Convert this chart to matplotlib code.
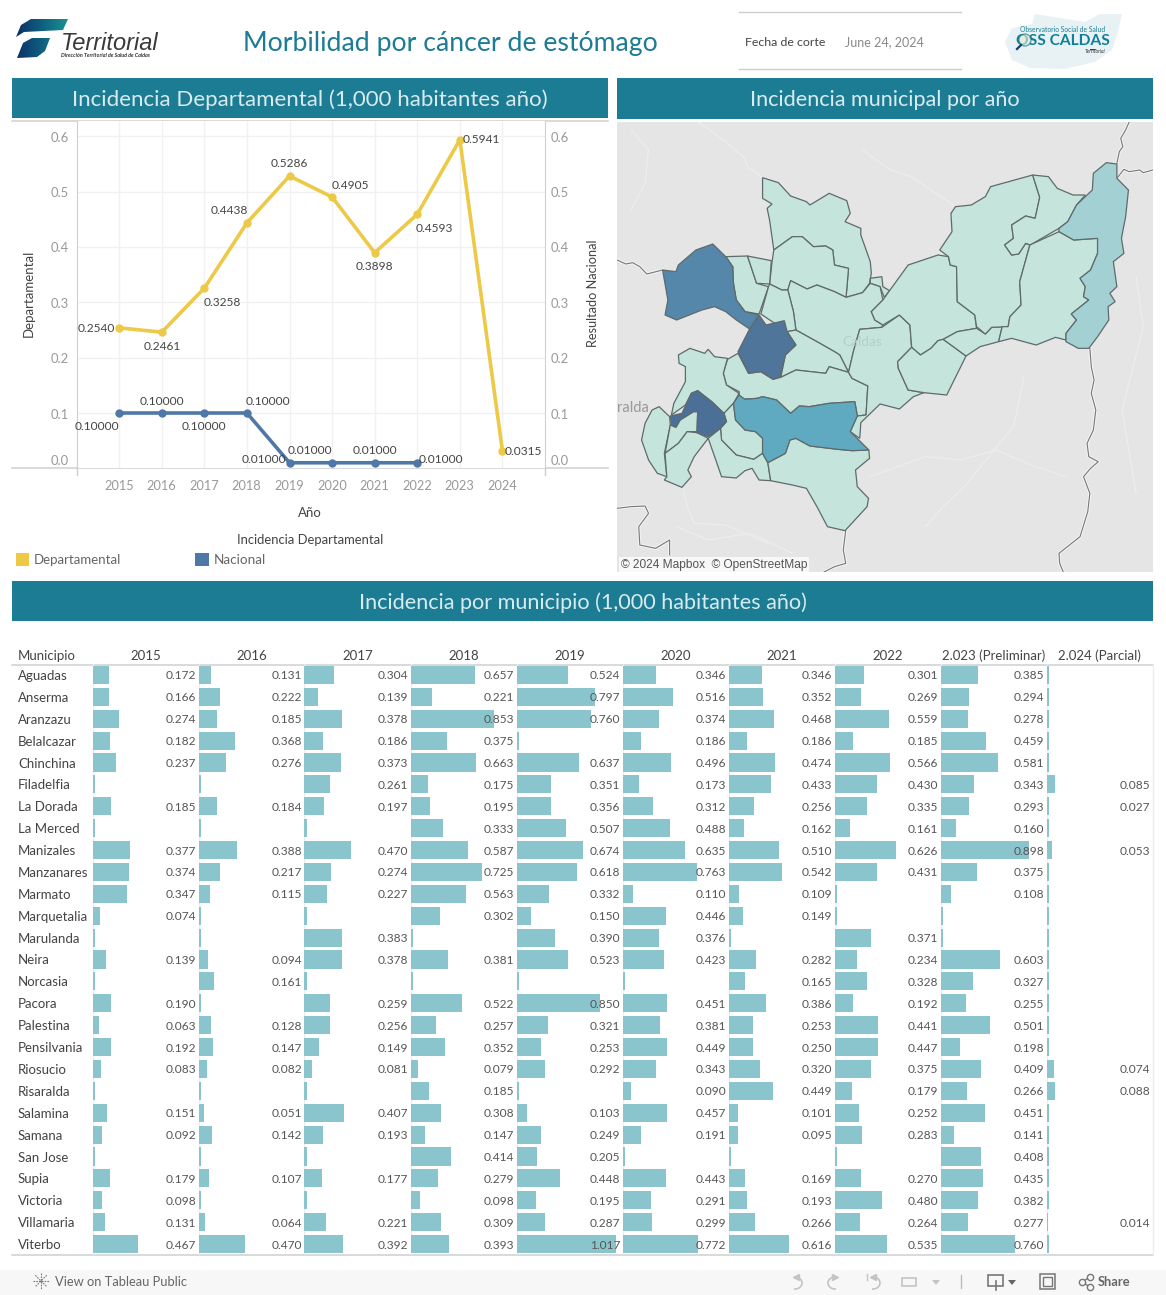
import numpy as np
import matplotlib
matplotlib.use('Agg')
import matplotlib.pyplot as plt
from matplotlib.patches import Polygon, Rectangle, Circle

plt.rcParams['font.family'] = ['Lato', 'DejaVu Sans']

W, H = 1166, 1295

# grafico de lineas
years = [2015, 2016, 2017, 2018, 2019, 2020, 2021, 2022, 2023, 2024]
departamental = [0.2540, 0.2461, 0.3258, 0.4438, 0.5286, 0.4905, 0.3898, 0.4593, 0.5941, 0.0315]
nacional = [0.1, 0.1, 0.1, 0.1, 0.01, 0.01, 0.01, 0.01]
dep_offsets = [(-23, -1), (0, -14), (18, -14), (-18, 12), (0, 12), (18, 12), (0, -14), (17, -14), (21, 0), (21, -1)]
nac_offsets = [(-22, -14), (0, 11), (0, -14), (21, 11), (-26, 3), (-22, 12), (0, 12), (24, 3)]

# tabla
municipios = ['Aguadas', 'Anserma', 'Aranzazu', 'Belalcazar', 'Chinchina', 'Filadelfia', 'La Dorada',
              'La Merced', 'Manizales', 'Manzanares', 'Marmato', 'Marquetalia', 'Marulanda', 'Neira',
              'Norcasia', 'Pacora', 'Palestina', 'Pensilvania', 'Riosucio', 'Risaralda', 'Salamina',
              'Samana', 'San Jose', 'Supia', 'Victoria', 'Villamaria', 'Viterbo']
col_names = ['2015', '2016', '2017', '2018', '2019', '2020', '2021', '2022',
             '2.023 (Preliminar)', '2.024 (Parcial)']
n = None
v2015 = [.172, .166, .274, .182, .237, n, .185, n, .377, .374, .347, .074, n, .139, n, .190, .063, .192, .083, n, .151, .092, n, .179, .098, .131, .467]
v2016 = [.131, .222, .185, .368, .276, n, .184, n, .388, .217, .115, n, n, .094, .161, n, .128, .147, .082, n, .051, .142, n, .107, n, .064, .470]
v2017 = [.304, .139, .378, .186, .373, .261, .197, n, .470, .274, .227, n, .383, .378, n, .259, .256, .149, .081, n, .407, .193, n, .177, n, .221, .392]
v2018 = [.657, .221, .853, .375, .663, .175, .195, .333, .587, .725, .563, .302, n, .381, n, .522, .257, .352, .079, .185, .308, .147, .414, .279, .098, .309, .393]
v2019 = [.524, .797, .760, n, .637, .351, .356, .507, .674, .618, .332, .150, .390, .523, n, .850, .321, .253, .292, n, .103, .249, .205, .448, .195, .287, 1.017]
v2020 = [.346, .516, .374, .186, .496, .173, .312, .488, .635, .763, .110, .446, .376, .423, n, .451, .381, .449, .343, .090, .457, .191, n, .443, .291, .299, .772]
v2021 = [.346, .352, .468, .186, .474, .433, .256, .162, .510, .542, .109, .149, n, .282, .165, .386, .253, .250, .320, .449, .101, .095, n, .169, .193, .266, .616]
v2022 = [.301, .269, .559, .185, .566, .430, .335, .161, .626, .431, n, n, .371, .234, .328, .192, .441, .447, .375, .179, .252, .283, n, .270, .480, .264, .535]
v2023 = [.385, .294, .278, .459, .581, .343, .293, .160, .898, .375, .108, n, n, .603, .327, .255, .501, .198, .409, .266, .451, .141, .408, .435, .382, .277, .760]
v2024 = [n, n, n, n, n, .085, .027, n, .053, n, n, n, n, n, n, n, n, n, .074, .088, n, n, n, n, n, .014, n]
columnas = [v2015, v2016, v2017, v2018, v2019, v2020, v2021, v2022, v2023, v2024]

# mapa: contornos de los municipios, en coordenadas propias del mapa
map_light = [
    [(435,203),(480,218),(515,258),(560,275),(570,285),(625,250),(675,272),(685,310),(670,335),(715,355),(715,375),(742,455),(745,490),(740,520),(720,548),(673,562),(680,475),(640,465),(635,420),(615,408),(580,410),(548,380),(520,380),(467,420),(455,330),(448,295),(462,282),(435,265)],
    [(467,420),(520,380),(548,380),(580,410),(615,408),(635,420),(640,465),(680,475),(673,562),(640,545),(590,525),(562,537),(515,512),(507,540),(490,540),(455,522),(462,455)],
    [(742,505),(775,500),(778,530),(797,542),(782,562),(770,530),(742,520)],
    [(515,512),(562,537),(590,525),(640,545),(673,562),(720,548),(742,520),(770,530),(778,570),(745,605),(755,630),(778,645),(775,652),(712,658),(695,720),(680,787),(655,735),(640,725),(590,695),(530,660),(523,605),(507,540)],
    [(330,440),(392,438),(418,520),(452,530),(425,612),(385,605),(360,570),(352,520),(350,470)],
    [(392,438),(460,452),(455,522),(418,520)],
    [(455,522),(490,540),(507,540),(523,605),(530,660),(505,665),(430,612),(452,530)],
    [(505,665),(530,660),(590,695),(640,725),(655,735),(680,787),(625,770),(615,790),(530,780),(487,802),(500,735),(530,705)],
    [(365,730),(395,790),(430,785),(465,808),(487,802),(530,780),(615,790),(625,770),(680,787),(690,805),(735,828),(730,915),(705,918),(698,875),(625,880),(568,890),(540,888),(515,910),(475,870),(435,860),(420,865),(370,868),(368,845),(332,825),(323,790),(335,748)],
    [(195,735),(228,715),(270,730),(280,718),(298,740),(335,745),(323,790),(332,825),(368,850),(352,880),(325,910),(290,875),(250,842),(232,850),(215,885),(175,915),(182,880),(215,815),(215,770),(197,760)],
    [(325,910),(352,880),(358,930),(385,960),(415,965),(435,985),(435,1030),(410,1048),(360,1035),(318,990),(315,955),(332,935)],
    [(280,985),(315,955),(318,990),(360,1035),(410,1048),(435,1030),(450,1058),(458,1112),(425,1110),(405,1075),(385,1082),(360,1104),(318,1100),(305,1060)],
    [(120,900),(140,890),(170,920),(172,945),(155,1030),(162,1100),(135,1090),(110,1050),(90,990),(100,940)],
    [(172,945),(188,952),(200,930),(238,905),(250,905),(248,965),(220,965),(195,1000),(157,1030)],
    [(157,1030),(195,1000),(220,965),(248,968),(280,985),(240,1040),(222,1080),(232,1100),(205,1132),(155,1110),(162,1100)],
    [(450,1058),(500,1030),(513,990),(530,985),(570,1008),(650,1018),(690,1022),(738,1020),(740,1045),(700,1080),(705,1130),(737,1165),(733,1190),(670,1262),(620,1250),(590,1190),(560,1135),(520,1125),(458,1112)],
    [(680,787),(695,720),(712,658),(775,652),(825,615),(855,645),(860,712),(820,755),(822,775),(850,840),(895,848),(865,860),(825,897),(770,882),(715,938),(712,985),(685,965),(705,918),(730,915),(735,828),(690,805)],
    [(778,570),(797,542),(850,465),(935,435),(965,440),(970,465),(988,470),(990,575),(1040,615),(1045,655),(990,665),(950,688),(935,692),(915,715),(885,735),(860,712),(855,645),(825,615),(778,645),(755,630),(745,605)],
    [(860,712),(885,735),(915,715),(935,692),(950,688),(1015,738),(1000,770),(960,855),(895,848),(850,840),(822,775),(820,755)],
    [(950,688),(990,665),(1045,655),(1070,672),(1088,652),(1118,650),(1108,695),(1055,710),(1015,738)],
    [(940,420),(975,365),(972,310),(985,290),(1030,285),(1070,260),(1085,230),(1205,195),(1225,262),(1212,325),(1185,318),(1145,345),(1150,385),(1125,405),(1145,435),(1165,432),(1185,400),(1197,405),(1168,515),(1172,585),(1140,620),(1135,650),(1088,652),(1070,672),(1045,650),(1040,615),(990,575),(988,470),(970,465),(965,440)],
    [(1205,195),(1250,200),(1275,235),(1320,255),(1355,255),(1330,285),(1305,335),(1280,355),(1198,405),(1185,400),(1165,432),(1145,435),(1125,405),(1150,385),(1145,345),(1185,318),(1212,325),(1225,262)],
    [(1197,405),(1280,365),(1322,390),(1390,385),(1390,430),(1370,480),(1340,505),(1355,530),(1350,560),(1365,570),(1315,612),(1330,630),(1300,670),(1300,690),(1270,682),(1215,705),(1145,685),(1108,695),(1118,650),(1135,650),(1140,620),(1172,585),(1168,515)],
]
map_este = [(1280,355),(1305,335),(1330,285),(1375,240),(1378,190),(1415,158),(1445,162),(1445,205),(1478,240),(1470,320),(1458,385),(1465,430),(1435,455),(1445,530),(1425,550),(1440,575),(1420,590),(1422,630),(1390,680),(1365,715),(1335,715),(1300,695),(1300,670),(1330,630),(1315,612),(1365,570),(1350,560),(1355,530),(1340,505),(1370,480),(1390,430),(1390,385),(1322,390),(1280,365)]
map_centro = [(368,855),(385,868),(420,865),(435,860),(475,870),(515,910),(540,888),(568,890),(625,880),(698,875),(705,918),(685,965),(738,1020),(690,1022),(650,1018),(570,1008),(530,985),(513,990),(500,1030),(450,1058),(435,1030),(435,985),(415,965),(385,960),(358,930),(352,880)]
map_oeste = [(150,480),(188,485),(195,465),(245,420),(293,402),(330,440),(350,470),(352,520),(360,570),(385,605),(425,615),(398,657),(360,630),(330,605),(298,590),(262,600),(190,630),(157,615),(165,570)]
map_oscuro1 = [(425,615),(445,645),(497,632),(505,665),(530,705),(500,735),(485,800),(465,808),(430,785),(395,790),(365,725),(398,657)]
map_oscuro2 = [(172,918),(205,910),(232,850),(250,842),(290,875),(325,910),(332,935),(315,955),(280,980),(248,968),(250,905),(238,905),(200,930),(188,952),(175,945)]
map_limites = [
    [(1445,160),(1452,125),(1462,110),(1456,85),(1470,60),(1480,36)],
    [(1445,205),(1465,178),(1480,185),(1510,180),(1520,188),(1548,180)],
    [(20,450),(45,462),(65,458),(85,470),(105,492),(150,480)],
    [(1368,715),(1372,770),(1380,810),(1372,850),(1385,900),(1378,960),(1360,1000),(1365,1040),(1392,1055),(1370,1075),(1350,1100),(1368,1150),(1362,1205),(1340,1280),(1280,1330),(1282,1360),(1292,1386)],
    [(672,1262),(665,1320),(672,1360),(640,1370),(610,1386)],
    [(20,1195),(60,1190),(100,1188),(110,1210),(82,1250),(85,1305),(130,1315),(170,1290),(170,1335)],
]
map_rios = [
    [(250,36),(285,60),(330,95),(380,140),(395,175),(420,190),(435,203)],
    [(60,60),(110,120),(100,220),(60,300)],
    [(720,120),(760,150),(800,180),(860,200),(900,230),(985,290)],
    [(740,1100),(820,1070),(900,1040),(1000,1050),(1100,1020),(1200,1065),(1300,1100)],
    [(1180,800),(1165,880),(1150,950),(1080,1040),(1010,1130),(950,1190),(900,1250)],
    [(1500,500),(1520,650),(1460,900),(1500,1150)],
    [(210,1140),(220,1190),(240,1240),(330,1245),(450,1300)],
    [(190,1250),(280,1290),(400,1270),(520,1330)],
]

fig = plt.figure(figsize=(W / 100, H / 100), dpi=100, facecolor='white')


def px_axes(x0, y0, x1, y1):
    return fig.add_axes([x0 / W, 1 - y1 / H, (x1 - x0) / W, (y1 - y0) / H])


# capa de fondo en pixeles para bandas, textos e iconos
bg = fig.add_axes([0, 0, 1, 1], zorder=0)
bg.set_xlim(0, W)
bg.set_ylim(H, 0)
bg.axis('off')

BAND = '#1c7c94'
for x0, x1, y0, y1, txt, fs in [
    (12, 608, 78, 118, 'Incidencia Departamental (1,000 habitantes año)', 16.0),
    (617, 1153, 78, 119, 'Incidencia municipal por año', 15.6),
    (12, 1153, 581, 621, 'Incidencia por municipio (1,000 habitantes año)', 15.6)]:
    bg.add_patch(Rectangle((x0, y0), x1 - x0, y1 - y0, color=BAND, lw=0))
    bg.text((x0 + x1) / 2, (y0 + y1) / 2 + 2, txt, color='#d8ebef', fontsize=fs, ha='center', va='center')

# encabezado
bg.text(450, 44, 'Morbilidad por cáncer de estómago', color=BAND, fontsize=19.2, ha='center', va='center')
bg.plot([739, 961], [12, 12], color='#cccccc', lw=1)
bg.plot([739, 961], [69, 69], color='#cccccc', lw=1)
bg.text(745, 42, 'Fecha de corte', color='#444444', fontsize=8.9, va='center')
bg.text(845, 42, 'June 24, 2024', color='#888888', fontsize=9, va='center')

# logo Territorial
grad = np.linspace(0, 1, 64).reshape(1, -1)
cmap = matplotlib.colors.LinearSegmentedColormap.from_list('logo', ['#0b2f66', '#0f5f80', '#1a9490'])
for pts in [[(16, 37), (21, 25), (31, 19), (68, 19), (63, 30), (24, 32)],
            [(17, 58), (23, 43), (32, 38), (50, 38), (45, 51), (37, 57)]]:
    im = bg.imshow(grad, extent=(15, 69, 58, 18), cmap=cmap, aspect='auto', zorder=2)
    im.set_clip_path(Polygon(pts, transform=bg.transData))
bg.set_xlim(0, W)
bg.set_ylim(H, 0)
bg.text(61, 43, 'Territorial', color='#3a3a3a', fontsize=17, style='italic', va='center', family=['Liberation Sans'])
bg.text(61, 55.5, 'Dirección Territorial de Salud de Caldas', color='#333333', fontsize=3.9, style='italic', fontweight='bold', va='center')

# logo OSS Caldas
blob = [(1005, 42), (1012, 28), (1032, 24), (1035, 14), (1060, 18), (1085, 22), (1100, 14), (1122, 14), (1118, 32), (1112, 50), (1095, 62), (1065, 69), (1030, 68), (1012, 60)]
bg.add_patch(Polygon(blob, facecolor='#e8f2f5', edgecolor='none', zorder=2))
bg.text(1063, 29, 'Observatorio Social de Salud', color='#1a7f95', fontsize=4.9, ha='center', va='center', zorder=3)
bg.text(1063, 41, 'OSS CALDAS', color='#0e7f96', fontsize=11.2, fontweight='bold', ha='center', va='center', zorder=3)
bg.add_patch(Circle((1025, 40), 6, facecolor='#e3ecd0', edgecolor='#0e6f8a', lw=1, alpha=0.6, zorder=4))
bg.plot([1021, 1017], [45, 49], color='#123f6d', lw=1.6, zorder=4)
bg.text(1095, 51.5, 'Territorial', color='#333333', fontsize=3.6, style='italic', ha='center', va='center', zorder=3)
bg.add_patch(Polygon([(1090, 49), (1097, 49), (1095, 50), (1090, 50)], color='#0b4f76', lw=0, zorder=3))

# grafico de lineas
ax = px_axes(76.6, 121, 545, 468.3)
ax.set_xlim(2014, 2025)
ax.set_ylim(0, 0.628)
ax.grid(True, color='#f1f1f1', lw=1)
ax.set_axisbelow(True)
ax.set_xticks(years)
ax.set_yticks([0.1, 0.2, 0.3, 0.4, 0.5, 0.6])
ax.tick_params(length=0, labelbottom=False, labelleft=False)
for s in ax.spines.values():
    s.set_color('#cfcfcf')
ax.spines['top'].set_visible(False)
ax.spines['bottom'].set_visible(False)
ax.plot(years, departamental, color='#edc948', lw=2.6, marker='o', ms=5, clip_on=False)
ax.plot(years[:len(nacional)], nacional, color='#4e79a7', lw=2.6, marker='o', ms=5, clip_on=False)
for x, v, (dx, dy) in zip(years, departamental, dep_offsets):
    ax.annotate(f'{v:.4f}', (x, v), xytext=(dx * 0.72, dy * 0.72), textcoords='offset points', ha='center',
                va='center', fontsize=8.6, color='#444444')
for x, v, (dx, dy) in zip(years, nacional, nac_offsets):
    ax.annotate(f'{v:.5f}', (x, v), xytext=(dx * 0.72, dy * 0.72), textcoords='offset points', ha='center',
                va='center', fontsize=8.6, color='#444444')

bg.plot([12, 608], [120.5, 120.5], color='#cfcfcf', lw=1.1)
bg.plot([12, 608], [468.3, 468.3], color='#cfcfcf', lw=1.1)
for xx in (76.6, 545):
    bg.plot([xx, xx], [468, 475], color='#cfcfcf', lw=1)
for y_lab, txt in [(138, '0.6'), (193, '0.5'), (248, '0.4'), (304, '0.3'), (359, '0.2'), (415, '0.1'), (461, '0.0')]:
    bg.text(69, y_lab, txt, color='#999999', fontsize=9.4, ha='right', va='center')
    bg.text(551, y_lab, txt, color='#999999', fontsize=9.4, ha='left', va='center')
for x in years:
    bg.text(119 + (x - 2015) * 42.55, 485.5, str(x), color='#999999', fontsize=9.2, ha='center', va='center')
bg.text(310, 513, 'Año', color='#444444', fontsize=9.5, ha='center', va='center')
bg.text(29, 293, 'Departamental', color='#444444', fontsize=9.5, rotation=90, ha='center', va='center')
bg.text(593, 293, 'Resultado Nacional', color='#444444', fontsize=9.2, rotation=90, ha='center', va='center')
bg.text(310, 540, 'Incidencia Departamental', color='#444444', fontsize=9.4, ha='center', va='center')
bg.add_patch(Rectangle((16, 553), 13, 13, color='#edc948', lw=0))
bg.text(34, 560, 'Departamental', color='#666666', fontsize=9.5, va='center')
bg.add_patch(Rectangle((195, 553), 14, 13, color='#4e79a7', lw=0))
bg.text(214, 560, 'Nacional', color='#666666', fontsize=9.7, va='center')

# mapa
mp = px_axes(617, 122, 1153, 572)
mp.set_xlim(20, 1548)
mp.set_ylim(1386, 36)
mp.set_xticks([])
mp.set_yticks([])
mp.set_facecolor('#e5e5e5')
for s in mp.spines.values():
    s.set_visible(False)
for r in map_rios:
    mp.plot(*zip(*r), color='#eeeeee', lw=0.8, zorder=1)
for r in map_limites:
    mp.plot(*zip(*r), color='white', lw=2.2, alpha=0.6, zorder=1)
    mp.plot(*zip(*r), color='#777777', lw=0.8, zorder=2)
EDGE = '#5f6a6a'
for poly in map_light:
    mp.add_patch(Polygon(poly, facecolor='#c4e4dc', edgecolor=EDGE, lw=0.9, zorder=3))
mp.add_patch(Polygon(map_este, facecolor='#a3d1d3', edgecolor=EDGE, lw=0.9, zorder=4))
mp.add_patch(Polygon(map_centro, facecolor='#5fa9c1', edgecolor=EDGE, lw=0.9, zorder=4))
mp.add_patch(Polygon(map_oeste, facecolor='#5487a9', edgecolor=EDGE, lw=0.9, zorder=4))
mp.add_patch(Polygon(map_oscuro1, facecolor='#4f759b', edgecolor=EDGE, lw=0.9, zorder=4))
mp.add_patch(Polygon(map_oscuro2, facecolor='#4b6f96', edgecolor=EDGE, lw=0.9, zorder=4))
mp.text(718, 697, 'Caldas', color='#b5cfca', fontsize=9.8, ha='center', va='center', zorder=5)
mp.text(20, 895, 'ralda', color='#999999', fontsize=10.5, ha='left', va='center', zorder=2)
mp.add_patch(Rectangle((25, 1342), 542, 44, facecolor='white', alpha=0.75, lw=0, zorder=6))
mp.text(32, 1364, '© 2024 Mapbox  © OpenStreetMap', color='#555555', fontsize=8.6, va='center', zorder=7,
        family=['Liberation Sans'])

# tabla
X0 = 92.5
COL_W = 106.0
top_t, bot_t = 664, 1255
STUB = 0.03
rows = np.arange(len(municipios))
for i, (name, vals) in enumerate(zip(col_names, columnas)):
    x0 = X0 + i * COL_W
    a = px_axes(x0, top_t, x0 + COL_W, bot_t)
    a.set_xlim(0, 1.08)
    a.set_ylim(len(municipios) - 0.5, -0.5)
    a.axis('off')
    a.patch.set_alpha(0)
    widths = [STUB if v is None else v for v in vals]
    a.axvline(0, color='#ececec', lw=1, zorder=0)
    a.barh(rows, widths, height=0.83, color='#8ac5cd', lw=0, zorder=2)
    for r, v in zip(rows, vals):
        if v is not None:
            a.annotate(f'{v:.3f}', (1.08, r), xytext=(-1.8, -0.7), textcoords='offset points', color='#555555',
                       fontsize=8.6, ha='right', va='center', annotation_clip=False, zorder=3)
    bg.text(x0 + COL_W / 2, 656, name, color='#444444', fontsize=9.5, ha='center', va='center')
for r, name in zip(rows, municipios):
    bg.text(18, top_t + (r + 0.5) * (bot_t - top_t) / len(municipios) + 1, name, color='#444444', fontsize=9.5, va='center')
bg.text(18, 656, 'Municipio', color='#444444', fontsize=9.5, va='center')
bg.plot([12, 1153], [664.5, 664.5], color='#cfcfcf', lw=1.1)
bg.plot([12, 1153], [1255, 1255], color='#cfcfcf', lw=1.1)
bg.plot([1153, 1153], [664, 1255], color='#ececec', lw=1)

# barra inferior
bg.add_patch(Rectangle((0, 1270), W, 25, color='#f7f7f7', lw=0))
bg.text(55, 1281.5, 'View on Tableau Public', color='#666666', fontsize=9.3, va='center')
bg.text(1098, 1281.5, 'Share', color='#666666', fontsize=9.3, va='center', fontweight='bold')
for ang in range(0, 180, 45):
    dx, dy = 8 * np.cos(np.radians(ang)), 8 * np.sin(np.radians(ang))
    bg.plot([41 - dx, 41 + dx], [1281 - dy, 1281 + dy], color='#777777', lw=0.8, dashes=(1.5, 1))
ICON = '#c4c4c4'
t = np.linspace(-1.6, 1.6, 20)
bg.plot(795 + 7 * np.cos(t), 1283 + 6 * np.sin(t), color=ICON, lw=1.2)
bg.plot(796, 1277, marker='<', ms=4, color=ICON)
bg.plot(835 - 7 * np.cos(t), 1283 + 6 * np.sin(t), color=ICON, lw=1.2)
bg.plot(835, 1277, marker='>', ms=4, color=ICON)
bg.plot(873 + 7 * np.cos(t), 1283 + 6 * np.sin(t), color=ICON, lw=1.2)
bg.plot(873, 1277, marker='<', ms=4, color=ICON)
bg.plot([867, 867], [1274, 1280], color=ICON, lw=1)
bg.add_patch(Rectangle((902, 1278), 14, 8, fill=False, edgecolor=ICON, lw=1.2))
bg.add_patch(Polygon([(932, 1280), (940, 1280), (936, 1285)], color=ICON, lw=0))
bg.plot([961, 961], [1275, 1288], color='#bbbbbb', lw=1)
bg.add_patch(Rectangle((988, 1275), 15, 11, fill=False, edgecolor='#777777', lw=1.2))
bg.plot([995.5, 995.5], [1281, 1290], color='#777777', lw=1.2)
bg.add_patch(Polygon([(1008, 1280), (1016, 1280), (1012, 1285)], color='#666666', lw=0))
bg.add_patch(Rectangle((1040, 1274), 15, 15, fill=False, edgecolor='#777777', lw=1.1))
bg.add_patch(Rectangle((1043, 1277), 9, 9, fill=False, edgecolor='#777777', lw=1))
bg.plot([1082, 1090], [1282, 1277], color='#777777', lw=1)
bg.plot([1082, 1090], [1282, 1287], color='#777777', lw=1)
bg.plot([1082, 1090, 1090], [1282, 1277, 1287], 'o', ms=4.5, mfc='#f7f7f7', mec='#777777', mew=1)

fig.savefig('out.png', dpi=100)
